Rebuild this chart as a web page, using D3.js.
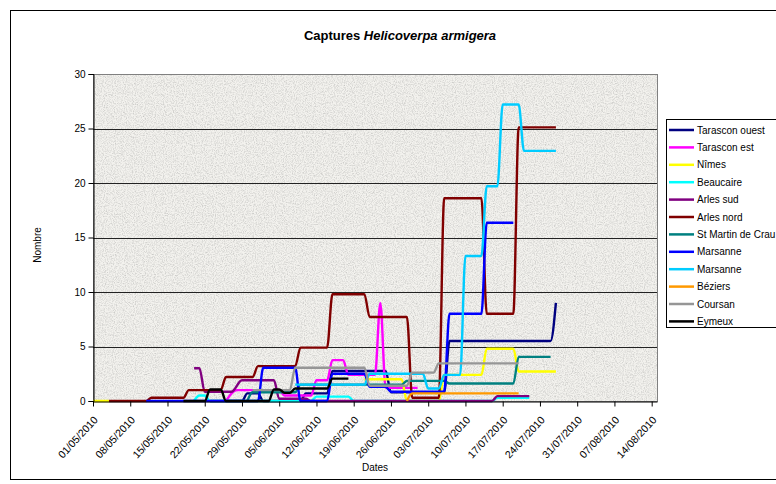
<!DOCTYPE html>
<html>
<head>
<meta charset="utf-8">
<script src="https://cdn.jsdelivr.net/npm/d3@7"></script>
<style>
  body { margin: 0; background: #fff; }
  text { font-family: Arial, "Liberation Sans", sans-serif; }
</style>
</head>
<body>
<svg id="chart" width="776" height="484"></svg>
<script>
// series names / colours (legend order = drawing order)
var seriesNames = ["Tarascon ouest", "Tarascon est", "Nîmes", "Beaucaire", "Arles sud", "Arles nord",
                   "St Martin de Crau", "Marsanne", "Marsanne", "Béziers", "Coursan", "Eymeux"];
var seriesColors = ["#000080", "#ff00ff", "#ffff00", "#00ffff", "#800080", "#800000",
                    "#008080", "#0000ff", "#00ccff", "#ff9900", "#969696", "#000000"];

// captures, [date (dd/mm), nombre]
var tarasconOuest = [["23/05",0],["29/05",0],["30/05",0.7],["01/06",0.7],["02/06",0],["09/06",0],["10/06",0.7],
  ["14/06",0.7],["15/06",2.75],["25/06",2.75],["26/06",0.8],["06/07",0.8],["07/07",5.5],["26/07",5.5],["27/07",9]];
var tarasconEst = [["26/05",0],["28/05",1.0],["05/06",1.0],["06/06",0.5],["11/06",0.5],["12/06",1.9],["14/06",1.9],
  ["15/06",3.75],["17/06",3.75],["18/06",2.4],["23/06",2.4],["24/06",9],["25/06",1.2],["01/07",1.2]];
var nimes = [["01/05",0],["04/05",0],["05/05",null],["21/06",2],["28/06",2],["29/06",0],["05/07",0],["06/07",2.4],
  ["13/07",2.4],["14/07",4.8],["19/07",4.8],["20/07",2.7],["27/07",2.7]];
var beaucaire = [["20/05",0],["21/05",0.5],["22/05",0.5],["23/05",0],["11/06",0],["12/06",0.4],["18/06",0.4],
  ["19/06",0],["15/07",0],["16/07",0.3],["22/07",0.3]];
var arlesSud = [["20/05",3.0],["21/05",3.0],["22/05",0.85],["27/05",0.85],["29/05",1.9],["04/06",1.9],["05/06",0.2],
  ["10/06",0.2],["11/06",0],["15/07",0],["16/07",0.45],["22/07",0.45]];
var arlesNord = [["04/05",0],["11/05",0],["12/05",0.3],["18/05",0.3],["19/05",1],["25/05",1],["26/05",2.2],
  ["31/05",2.2],["01/06",3.2],["08/06",3.2],["09/06",4.9],["14/06",4.9],["15/06",9.8],["21/06",9.8],["22/06",7.7],
  ["29/06",7.7],["30/06",0.3],["05/07",0.3],["06/07",18.6],["13/07",18.6],["14/07",8],["19/07",8],["20/07",25.1],
  ["27/07",25.1]];
var stMartin = [["30/05",0],["31/05",0.8],["08/06",0.8],["09/06",1.5],["28/06",1.5],["29/06",1.85],["06/07",1.85],
  ["07/07",1.6],["19/07",1.6],["20/07",4.05],["26/07",4.05]];
var marsanne1 = [["11/05",0],["01/06",0],["02/06",3.05],["08/06",3.05],["09/06",0],["14/06",0],["15/06",2.5],
  ["21/06",2.5],["22/06",1.3],["25/06",1.3],["26/06",0.85],["06/07",0.85],["07/07",8],["13/07",8],["14/07",16.35],
  ["19/07",16.35]];
var marsanne2 = [["08/06",1.5],["21/06",1.5],["22/06",2.5],["02/07",2.5],["03/07",1.15],["05/07",1.15],["06/07",2.4],
  ["09/07",2.4],["10/07",13.3],["13/07",13.3],["14/07",19.7],["16/07",19.7],["17/07",27.2],["20/07",27.2],
  ["21/07",22.95],["27/07",22.95]];
var beziers = [["29/06",0],["30/06",0.7],["20/07",0.7]];
var coursan = [["31/05",1.0],["07/06",1.0],["08/06",3.05],["21/06",3.05],["22/06",1.4],["29/06",1.4],["30/06",2.6],
  ["04/07",2.6],["05/07",3.45],["20/07",3.45]];
var eymeux = [["18/05",0],["22/05",0],["23/05",1.05],["25/05",1.05],["26/05",0],["03/06",0],["04/06",1.05],
  ["05/06",1.05],["06/06",0.75],["07/06",0.75],["08/06",1.15],["14/06",1.15],["15/06",2.05],["18/06",2.05]];

var seriesValues = [tarasconOuest, tarasconEst, nimes, beaucaire, arlesSud, arlesNord,
                    stMartin, marsanne1, marsanne2, beziers, coursan, eymeux];

var yTicks = [0, 5, 10, 15, 20, 25, 30];
var xTickLabels = ["01/05/2010", "08/05/2010", "15/05/2010", "22/05/2010", "29/05/2010", "05/06/2010",
                   "12/06/2010", "19/06/2010", "26/06/2010", "03/07/2010", "10/07/2010", "17/07/2010",
                   "24/07/2010", "31/07/2010", "07/08/2010", "14/08/2010"];

var parseDate = d3.timeParse("%d/%m/%Y");
var plot = { left: 93, right: 657, top: 74, bottom: 401 };

var svg = d3.select("#chart");

var defs = svg.append("defs");
var granite = defs.append("filter")
    .attr("id", "granite")
    .attr("x", 0).attr("y", 0).attr("width", 1).attr("height", 1);
granite.append("feTurbulence")
    .attr("type", "fractalNoise")
    .attr("baseFrequency", 0.9)
    .attr("numOctaves", 3)
    .attr("seed", 4);
granite.append("feColorMatrix")
    .attr("type", "matrix")
    .attr("values", "0 0 0 0 0.45  0 0 0 0 0.45  0 0 0 0 0.44  1.3 0 0 0 -0.52");

// outer chart frame
svg.append("rect")
    .attr("x", 10.5).attr("y", 10.5)
    .attr("width", 800).attr("height", 469)
    .attr("fill", "#fff")
    .attr("stroke", "#000");

var xScale = d3.scaleTime()
    .domain([parseDate("01/05/2010"), parseDate("15/08/2010")])
    .range([plot.left, plot.right]);

var yScale = d3.scaleLinear()
    .domain([0, 30])
    .range([plot.bottom, plot.top]);

// plot area background
svg.append("rect")
    .attr("x", plot.left).attr("y", plot.top)
    .attr("width", plot.right - plot.left).attr("height", plot.bottom - plot.top)
    .attr("fill", "#f3f2ee");
svg.append("rect")
    .attr("x", plot.left).attr("y", plot.top)
    .attr("width", plot.right - plot.left).attr("height", plot.bottom - plot.top)
    .attr("filter", "url(#granite)");
svg.append("rect")
    .attr("x", plot.left + 0.5).attr("y", plot.top + 0.5)
    .attr("width", plot.right - plot.left).attr("height", plot.bottom - plot.top)
    .attr("fill", "none")
    .attr("stroke", "#808080");

// grid lines
svg.append("g")
  .selectAll("line")
  .data(yTicks.filter(d => d > 0 && d < 30))
  .enter()
  .append("line")
    .attr("x1", plot.left).attr("x2", plot.right)
    .attr("y1", d => Math.round(yScale(d)) + 0.5)
    .attr("y2", d => Math.round(yScale(d)) + 0.5)
    .attr("stroke", "#222");

// series
var line = d3.line()
    .defined(d => d[1] !== null)
    .x(d => xScale(parseDate(d[0] + "/2010")))
    .y(d => yScale(d[1]))
    .curve(d3.curveMonotoneX);

svg.append("g")
  .selectAll("path")
  .data(seriesValues)
  .enter()
  .append("path")
    .attr("d", d => line(d))
    .attr("fill", "none")
    .attr("stroke", (d, i) => seriesColors[i])
    .attr("stroke-width", 2.4)
    .attr("stroke-linejoin", "round");

// axes
var yAxis = d3.axisLeft(yScale)
    .tickValues(yTicks)
    .tickSize(5)
    .tickPadding(3);

var yG = svg.append("g")
    .attr("transform", "translate(" + (plot.left + 0.5) + ",0)")
    .call(yAxis);
yG.select(".domain").attr("stroke", "#000");
yG.selectAll("text").style("font-size", "10px").attr("fill", "#000");

var xAxis = d3.axisBottom(xScale)
    .tickValues(xTickLabels.map(parseDate))
    .tickFormat(d3.timeFormat("%d/%m/%Y"))
    .tickSize(5)
    .tickSizeOuter(0);

var xG = svg.append("g")
    .attr("transform", "translate(0," + (plot.bottom + 0.5) + ")")
    .call(xAxis);
xG.select(".domain").attr("stroke", "#000");
xG.selectAll("text")
    .style("font-size", "10.5px")
    .attr("fill", "#000")
    .attr("text-anchor", "end")
    .attr("x", 0).attr("y", 0).attr("dy", 0)
    .attr("transform", "translate(5,19) rotate(-47)");

// titles
var title = svg.append("text")
    .attr("x", 400)
    .attr("y", 40)
    .attr("text-anchor", "middle")
    .style("font-size", "13px")
    .style("font-weight", "bold");
title.append("tspan").text("Captures ");
title.append("tspan").style("font-style", "italic").text("Helicoverpa armigera");

svg.append("text")
    .attr("transform", "translate(41,245) rotate(-90)")
    .attr("text-anchor", "middle")
    .style("font-size", "10px")
    .text("Nombre");

svg.append("text")
    .attr("x", (plot.left + plot.right) / 2)
    .attr("y", 471)
    .attr("text-anchor", "middle")
    .style("font-size", "10px")
    .text("Dates");

// legend
var legend = svg.append("g");
legend.append("rect")
    .attr("x", 666.5).attr("y", 119.5)
    .attr("width", 140).attr("height", 208)
    .attr("fill", "#fff")
    .attr("stroke", "#000");

var items = legend.selectAll(".item")
  .data(seriesNames)
  .enter()
  .append("g")
    .classed("item", true)
    .attr("transform", (d, i) => "translate(0," + (130 + i * 17.4) + ")");

items.append("line")
    .attr("x1", 669).attr("x2", 694)
    .attr("stroke", (d, i) => seriesColors[i])
    .attr("stroke-width", 2.5);

items.append("text")
    .attr("x", 697)
    .attr("y", 3.5)
    .style("font-size", "10px")
    .text(d => d);
</script>
</body>
</html>
